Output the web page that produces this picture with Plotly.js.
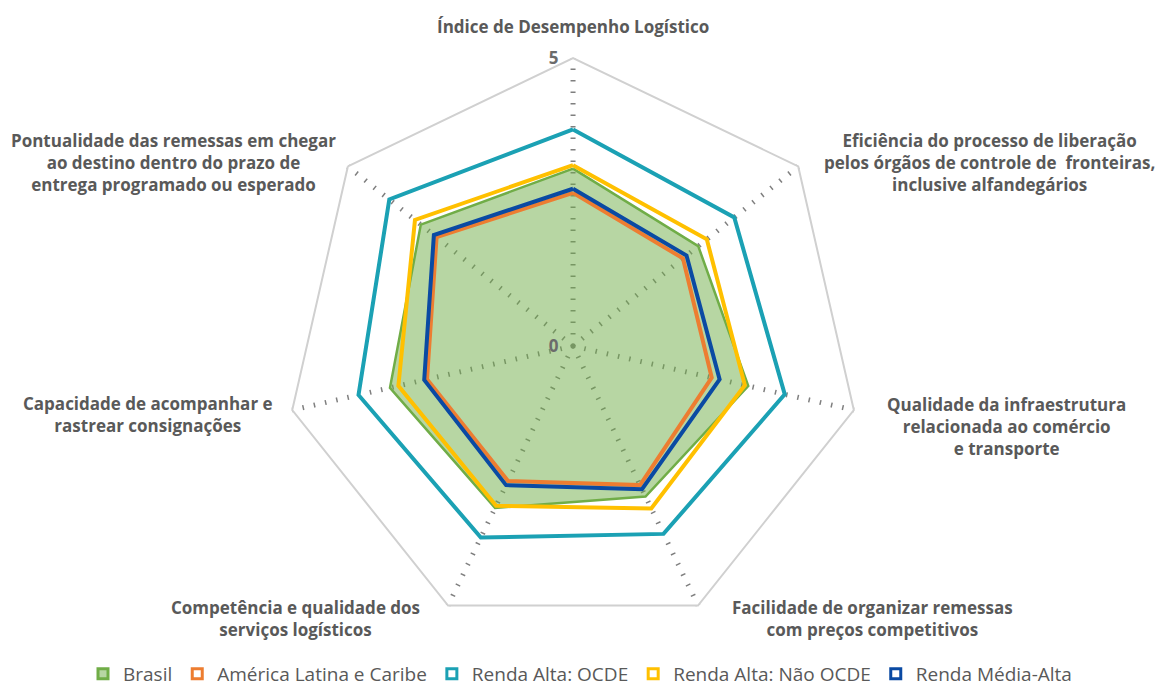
<!DOCTYPE html>
<html>
<head>
<meta charset="utf-8">
<script src="https://cdn.plot.ly/plotly-3.0.1.min.js"></script>
<style>html,body{margin:0;padding:0;background:#fff;} #chart{width:1160px;height:693px;}</style>
</head>
<body>
<div id="chart"></div>
<script>
// Categories (clockwise from top)
const categories = [
  "Índice de Desempenho Logístico",
  "Eficiência do processo de liberação<br>pelos órgãos de controle de  fronteiras,<br>inclusive alfandegários",
  "Qualidade da infraestrutura<br>relacionada ao comércio<br>e transporte",
  "Facilidade de organizar remessas<br>com preços competitivos",
  "Competência e qualidade dos<br>serviços logísticos",
  "Capacidade de acompanhar e<br>rastrear consignações",
  "Pontualidade das remessas em chegar<br>ao destino dentro do prazo de<br>entrega programado ou esperado"
];
const seriesNames = ["Brasil", "América Latina e Caribe", "Renda Alta: OCDE", "Renda Alta: Não OCDE", "Renda Média-Alta"];
const brasil      = [3.08, 2.78, 3.12, 2.90, 3.12, 3.26, 3.38];
const americaLat  = [2.66, 2.44, 2.47, 2.68, 2.60, 2.60, 3.03];
const rendaOCDE   = [3.76, 3.58, 3.77, 3.62, 3.69, 3.82, 4.08];
const rendaNaoOCDE= [3.14, 2.97, 3.06, 3.13, 3.08, 3.11, 3.51];
const rendaMedia  = [2.73, 2.52, 2.61, 2.76, 2.68, 2.65, 3.09];
const radialTicks = [0, 5];

const colors = ["#70AD47", "#ED7D31", "#1BA1B4", "#FFC000", "#0A4AA3"];
const allSeries = [brasil, americaLat, rendaOCDE, rendaNaoOCDE, rendaMedia];

const W = 1160, H = 693;
const domX = [0.2457, 0.7423], domY = [0.0851, 0.9163];

const traces = [];
allSeries.forEach((vals, i) => {
  const isFill = i === 0;
  traces.push({
    type: "scatterpolar",
    r: vals.concat([vals[0]]),
    theta: categories.concat([categories[0]]),
    mode: "lines",
    name: seriesNames[i],
    legendgroup: seriesNames[i],
    showlegend: false,
    fill: isFill ? "toself" : "none",
    fillcolor: isFill ? "rgba(112,173,71,0.5)" : undefined,
    line: {color: colors[i], width: isFill ? 2.5 : 4},
    hoverinfo: "name+r+theta"
  });
});
// legend entries with square icons like the original
allSeries.forEach((vals, i) => {
  traces.push({
    type: "scatterpolar",
    r: [null], theta: [categories[0]],
    mode: "markers",
    name: seriesNames[i],
    legendgroup: seriesNames[i],
    showlegend: true,
    marker: {symbol: "square", size: 10,
      color: i === 0 ? "rgba(112,173,71,0.5)" : "#ffffff",
      line: {color: colors[i], width: 3}}
  });
});

// category labels placed outside each vertex of the polar frame
const cxPx = W * (domX[0] + domX[1]) / 2;
const cyPx = H * (1 - (domY[0] + domY[1]) / 2);
const Rpx = Math.min(W * (domX[1] - domX[0]), H * (domY[1] - domY[0])) / 2;
const labelPlacement = [
  {xa: "center", dx: 0,   dy: -32},
  {xa: "left",   dx: 24,  dy: -4},
  {xa: "left",   dx: 31,  dy: 16},
  {xa: "left",   dx: 32,  dy: 13},
  {xa: "right",  dx: -26, dy: 13},
  {xa: "right",  dx: -17, dy: 4},
  {xa: "right",  dx: -10, dy: -4}
];
const annotations = categories.map((txt, i) => {
  const ang = 2 * Math.PI * i / categories.length;
  const vx = cxPx + Rpx * Math.sin(ang);
  const vy = cyPx - Rpx * Math.cos(ang);
  const p = labelPlacement[i];
  return {
    text: txt, showarrow: false, xref: "paper", yref: "paper",
    x: (vx + p.dx) / W, y: 1 - (vy + p.dy) / H,
    xanchor: p.xa, yanchor: "middle", align: "center",
    font: {size: 17, color: "#595959", family: "'Open Sans', sans-serif", weight: "bold"}
  };
});

const layout = {
  width: W, height: H,
  margin: {l: 0, r: 0, t: 0, b: 0, autoexpand: false},
  paper_bgcolor: "#ffffff",
  font: {family: "'Open Sans', sans-serif", color: "#595959"},
  showlegend: true,
  legend: {orientation: "h", x: 0.5, xanchor: "center", y: 0, yanchor: "bottom",
    font: {size: 19, color: "#595959", family: "'Open Sans', sans-serif"}, itemwidth: 30,
    borderwidth: 0},
  annotations: annotations,
  polar: {
    domain: {x: domX, y: domY},
    gridshape: "linear",
    bgcolor: "rgba(0,0,0,0)",
    radialaxis: {
      range: [0, 5], tickvals: radialTicks,
      angle: 90, tickangle: 90, showline: false, showgrid: false,
      ticks: "outside", ticklen: 8, tickcolor: "rgba(0,0,0,0)",
      tickfont: {size: 17, color: "#6b6b6b", family: "'Open Sans', sans-serif", weight: "bold"},
      side: "counterclockwise"
    },
    angularaxis: {
      direction: "clockwise", rotation: 90,
      showline: true, linecolor: "#d0d0d0", linewidth: 2,
      showgrid: true, gridcolor: "#7f7f7f", gridwidth: 5, griddash: "1.5px,10px",
      ticks: "", showticklabels: false
    }
  }
};
Plotly.newPlot("chart", traces, layout, {displayModeBar: false, staticPlot: true});
</script>
</body>
</html>
